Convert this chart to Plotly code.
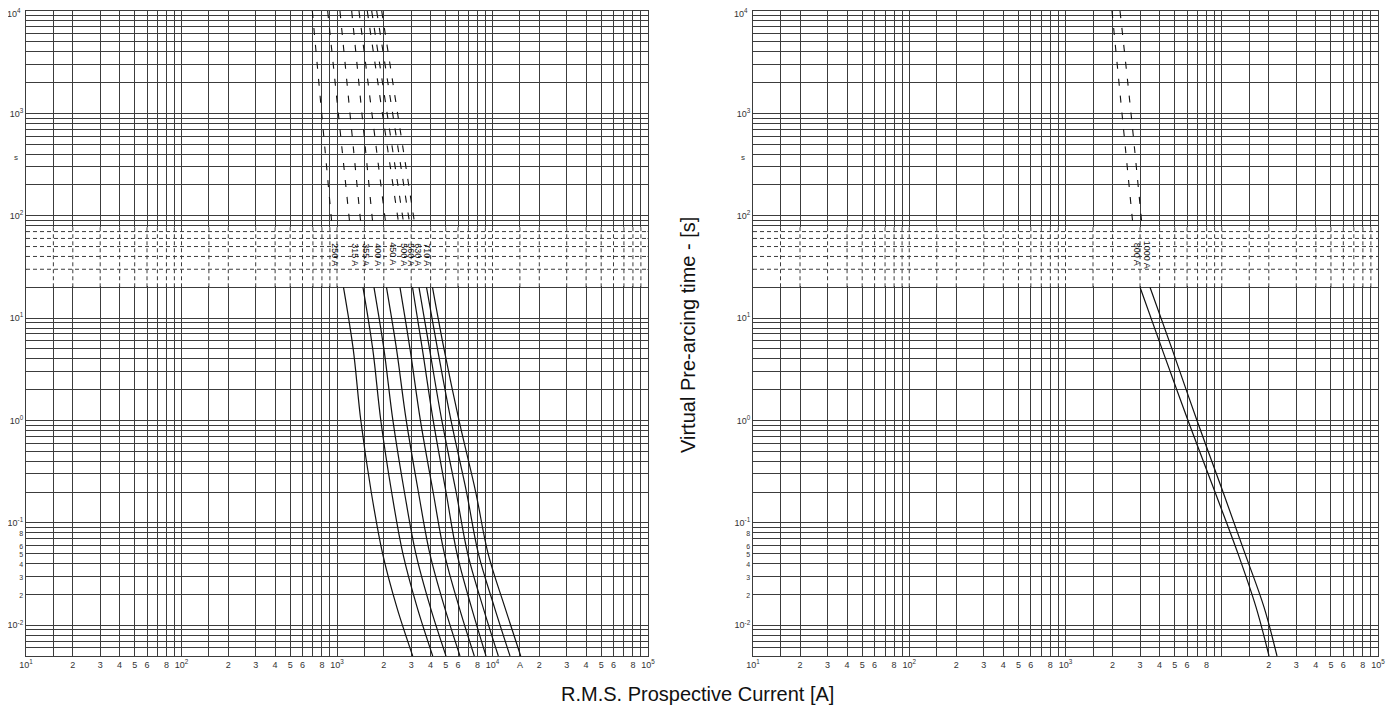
import numpy as np
import plotly.graph_objects as go

# ---------------- data ----------------
# time points (s) of the long-time (dashed) and short-time (solid) parts
t_long = [10000, 1000, 80]
t_short = [20, 5, 1, 0.2, 0.05, 0.015, 0.005]
label_time = 42

left_ratings = ["250 A", "315 A", "355 A", "400 A", "450 A", "500 A", "560 A", "630 A", "710 A"]
left_long = [
    [694, 797, 929],
    [871, 1020, 1212],
    [1045, 1212, 1427],
    [1243, 1446, 1704],
    [1385, 1677, 2066],
    [1566, 1959, 2504],
    [1672, 2100, 2697],
    [1800, 2279, 2948],
    [1939, 2453, 3174],
]
left_short = [
    [1101, 1271, 1423, 1660, 1965, 2424, 3068],
    [1469, 1697, 1913, 2245, 2653, 3274, 4126],
    [1729, 2002, 2288, 2713, 3214, 3981, 5023],
    [2081, 2413, 2788, 3338, 3953, 4913, 6180],
    [2541, 2948, 3438, 4150, 4905, 6098, 7638],
    [3059, 3537, 4156, 5023, 5911, 7315, 9083],
    [3367, 3935, 4721, 5833, 6926, 8687, 10900],
    [3764, 4429, 5409, 6805, 8117, 10280, 12960],
    [4113, 4877, 6090, 7798, 9369, 12000, 15180],
]
left_label_current = [971, 1306, 1537, 1835, 2291, 2697, 2992, 3319, 3792]

right_ratings = ["800 A", "1000 A"]
right_long = [
    [1984, 2299, 2704],
    [2233, 2626, 3088],
]
right_short = [
    [2999, 4146, 6081, 9055, 12706, 16570, 20070],
    [3473, 4804, 6943, 10190, 14090, 18640, 22570],
]
right_label_current = [2850, 3300]

# grid / tick definitions
x_decades = [1, 2, 3, 4]
x_mults = [1, 1.5, 2, 3, 4, 5, 6, 7, 8, 9]
x_mult_labels = {1: None, 1.5: "", 2: "2", 3: "3", 4: "4", 5: "5", 6: "6", 7: "", 8: "8", 9: ""}
y_decades = [-3, -2, -1, 0, 1, 2, 3]
y_mults = [1, 2, 3, 4, 5, 6, 7, 8, 9]
y_small_labels = {0.08: "8", 0.06: "6", 0.05: "5", 0.04: "4", 0.03: "3", 0.02: "2"}
band_dashed_times = [30, 40, 50, 60, 70]

# ---------------- figure ----------------
FONT = "Liberation Sans, Arial, sans-serif"
GRID = "#3c3c3c"
INK = "#111111"
W, H = 1379, 712


def sup(k):
    return "10<sup>%d</sup>" % k


def x_ticks(special):
    vals, texts = [], []
    for k in x_decades:
        for m in x_mults:
            v = m * 10 ** k
            vals.append(v)
            if m == 1:
                texts.append(special.get(k, sup(k)))
            elif (k, m) in special:
                texts.append(special[(k, m)])
            else:
                texts.append(x_mult_labels[m])
    vals.append(10 ** 5)
    texts.append(sup(5))
    return vals, texts


def y_ticks():
    vals, texts = [], []
    for k in y_decades:
        for m in y_mults:
            v = round(m * 10 ** k, 6)
            if v < 0.005:
                continue
            vals.append(v)
            if m == 1:
                texts.append(sup(k))
            elif v in y_small_labels:
                texts.append("<span style='font-size:7px'>%s</span>" % y_small_labels[v])
            else:
                texts.append("")
    vals.append(10 ** 4)
    texts.append("")  # top label drawn as an annotation so it is not clipped
    return vals, texts


xl_vals, xl_text = x_ticks({(4, 1.5): "A"})
xr_vals, xr_text = x_ticks({4: ""})
y_vals, y_text = y_ticks()

fig = go.Figure()


def add_panel(ratings, long_I, short_I, label_I, xa, ya):
    for r, li, si, lab in zip(ratings, long_I, short_I, label_I):
        fig.add_trace(go.Scatter(x=li, y=t_long, mode="lines", xaxis=xa, yaxis=ya,
                                 line=dict(color=INK, width=1.1, dash="7px,10px", shape="spline"),
                                 showlegend=False, hoverinfo="skip"))
        fig.add_trace(go.Scatter(x=si, y=t_short, mode="lines", xaxis=xa, yaxis=ya,
                                 line=dict(color=INK, width=1.2, shape="spline"),
                                 showlegend=False, hoverinfo="skip"))
        fig.add_annotation(x=np.log10(lab), y=np.log10(label_time), xref=xa, yref=ya,
                           text=r, textangle=90, showarrow=False,
                           font=dict(family=FONT, size=9, color=INK))


add_panel(left_ratings, left_long, left_short, left_label_current, "x", "y")
add_panel(right_ratings, right_long, right_short, right_label_current, "x2", "y2")

# label band (between 20 s and 80 s): gridlines are dashed there
for xa, ya, xv in [("x", "y", xl_vals), ("x2", "y2", xr_vals)]:
    fig.add_shape(type="rect", xref=xa + " domain", x0=0.0008, x1=0.9992, yref=ya, y0=20.6, y1=77,
                  fillcolor="white", line_width=0, layer="above")
    for gx in xv[1:-1]:
        fig.add_shape(type="line", xref=xa, x0=gx, x1=gx, yref=ya, y0=20, y1=80,
                      line=dict(color=GRID, width=1, dash="4px,3px"), layer="above")
    for gy in band_dashed_times:
        fig.add_shape(type="line", xref=xa + " domain", x0=0, x1=1, yref=ya, y0=gy, y1=gy,
                      line=dict(color=GRID, width=1, dash="4px,3px"), layer="above")
    fig.add_annotation(xref=xa + " domain", x=0, xanchor="right", xshift=-6,
                       yref=ya, y=np.log10(370), text="s", showarrow=False,
                       font=dict(family=FONT, size=8, color="#333"))
    fig.add_annotation(xref=xa + " domain", x=0, xanchor="right", xshift=-3,
                       yref=ya, y=4, yanchor="top", yshift=6, text=sup(4), showarrow=False,
                       font=dict(family=FONT, size=9, color="#333"))

x_common = dict(type="log", range=[1, 5], tickmode="array", showgrid=True,
                gridcolor=GRID, gridwidth=1, showline=True, linecolor=GRID, linewidth=1,
                mirror=True, ticks="", tickangle=0, zeroline=False, ticklabeloverflow="allow",
                automargin=False, tickfont=dict(family=FONT, size=9, color="#333"))
y_common = dict(type="log", range=[np.log10(0.005), 4], tickmode="array",
                tickvals=y_vals, ticktext=y_text, showgrid=True, gridcolor=GRID,
                gridwidth=1, showline=True, linecolor=GRID, linewidth=1, mirror=True,
                ticks="", zeroline=False, ticklabeloverflow="allow", automargin=False,
                tickfont=dict(family=FONT, size=9, color="#333"))

ydom = [1 - 648 / H, 1 - 3 / H]
fig.update_layout(
    width=W, height=H, margin=dict(l=0, r=0, t=0, b=0, autoexpand=False),
    paper_bgcolor="white", plot_bgcolor="white",
    xaxis=dict(x_common, domain=[18 / W, 640 / W], tickvals=xl_vals, ticktext=xl_text, anchor="y"),
    yaxis=dict(y_common, domain=ydom, anchor="x"),
    xaxis2=dict(x_common, domain=[745 / W, 1370 / W], tickvals=xr_vals, ticktext=xr_text, anchor="y2"),
    yaxis2=dict(y_common, domain=ydom, anchor="x2"),
    font=dict(family=FONT),
)

fig.add_annotation(xref="paper", yref="paper", x=689 / W, y=1 - 699 / H,
                   text="R.M.S. Prospective Current [A]", showarrow=False,
                   font=dict(family=FONT, size=20, color="#111"))
fig.add_annotation(xref="paper", yref="paper", x=680 / W, y=1 - 327 / H,
                   text="Virtual Pre-arcing time - [s]", textangle=-90, showarrow=False,
                   font=dict(family=FONT, size=20, color="#111"))

fig.write_html("out.html")
